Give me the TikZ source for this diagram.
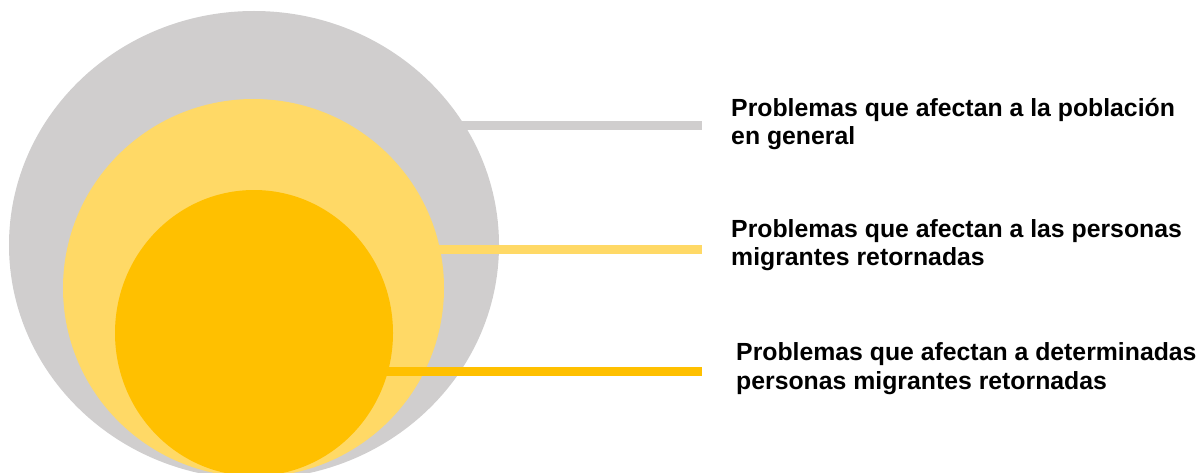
\documentclass[tikz,border=0pt]{standalone}
\usepackage{fontspec}
\setmainfont{Liberation Sans}
\usetikzlibrary{positioning}

\definecolor{ringgray}{HTML}{D0CECE}
\definecolor{ringlight}{HTML}{FFD966}
\definecolor{ringgold}{HTML}{FFC000}

\begin{document}
\begin{tikzpicture} [
  x = 1pt,
  y = -1pt,
  leader/.style = {line width = 9pt},
  labeltext/.style = {
    anchor = base west,
    align = left,
    inner sep = 0pt,
    font = \fontsize{24.8}{28.5}\selectfont\bfseries,
  },
]
\useasboundingbox (0, 0) rectangle (1198, 473);

% Nested rings, cut at the lower edge
\begin{scope}
\clip (0, 0) rectangle (1198, 473);
\fill [ringgray] (254, 245) ellipse [x radius = 245, y radius = 234];
\coordinate (gray-in) at (300, 125.5);
\coordinate (gray-out) at (702, 125.5);
\draw [leader, ringgray] (gray-in) -- (gray-out);
\fill [ringlight] (253.5, 288) ellipse [x radius = 190.5, y radius = 189];
\coordinate (light-in) at (300, 249);
\coordinate (light-out) at (702, 249);
\draw [leader, ringlight] (light-in) -- (light-out);
\fill [ringgold] (254, 333) ellipse [x radius = 139, y radius = 143];
\coordinate (gold-in) at (300, 371);
\coordinate (gold-out) at (702, 371);
\draw [leader, ringgold] (gold-in) -- (gold-out);
\end{scope}

% Labels (base anchor sits on the last line)
\node [labeltext] (general) at (731, 145) {Problemas que afectan a la población\\en general};
\node [labeltext] (retorno) at (731, 265.5) {Problemas que afectan a las personas\\migrantes retornadas};
\node [labeltext] (grupos) at (736, 389) {Problemas que afectan a determinadas\\personas migrantes retornadas};
\end{tikzpicture}
\end{document}
